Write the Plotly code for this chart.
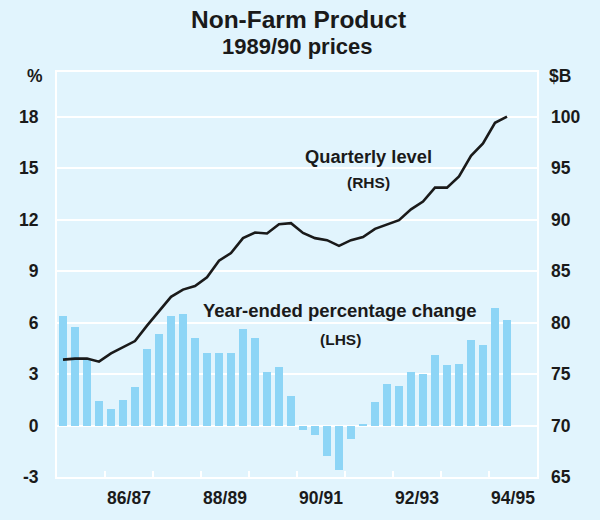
import plotly.graph_objects as go

quarters = ["Sep-85", "Dec-85", "Mar-86", "Jun-86", "Sep-86", "Dec-86", "Mar-87", "Jun-87",
            "Sep-87", "Dec-87", "Mar-88", "Jun-88", "Sep-88", "Dec-88", "Mar-89", "Jun-89",
            "Sep-89", "Dec-89", "Mar-90", "Jun-90", "Sep-90", "Dec-90", "Mar-91", "Jun-91",
            "Sep-91", "Dec-91", "Mar-92", "Jun-92", "Sep-92", "Dec-92", "Mar-93", "Jun-93",
            "Sep-93", "Dec-93", "Mar-94", "Jun-94", "Sep-94", "Dec-94"]

year_ended_pct = [6.4, 5.75, 3.8, 1.4, 0.95, 1.5, 2.25, 4.45, 5.35, 6.4, 6.5, 5.1, 4.2, 4.25,
                  4.25, 5.6, 5.1, 3.1, 3.4, 1.7, -0.25, -0.55, -1.8, -2.6, -0.8, 0.1, 1.35,
                  2.4, 2.3, 3.1, 3.0, 4.1, 3.5, 3.6, 5.0, 4.7, 6.85, 6.15]

quarterly_level = [76.4, 76.5, 76.5, 76.2, 77.0, 77.6, 78.2, 79.7, 81.1, 82.5, 83.2, 83.55,
                   84.4, 86.0, 86.75, 88.2, 88.75, 88.65, 89.55, 89.65, 88.7, 88.2, 88.0,
                   87.45, 88.0, 88.3, 89.1, 89.5, 89.95, 91.0, 91.75, 93.1, 93.1, 94.2,
                   96.2, 97.4, 99.4, 100.0]

year_labels = ["86/87", "88/89", "90/91", "92/93", "94/95"]
year_first_quarter = ["Sep-86", "Sep-88", "Sep-90", "Sep-92", "Sep-94"]
year_boundary_quarters = ["Sep-86", "Sep-87", "Sep-88", "Sep-89", "Sep-90", "Sep-91",
                          "Sep-92", "Sep-93", "Sep-94"]

left_ticks = [-3, 0, 3, 6, 9, 12, 15, 18]
left_tick_text = ["-3", "0", "3", "6", "9", "12", "15", "18"]
right_ticks = [65, 70, 75, 80, 85, 90, 95, 100]

BG = "#e1f4fd"
BAR = "#8dd5f6"
INK = "#1a1a1a"
FONT = "Liberation Sans, Arial, sans-serif"

idx = {q: i for i, q in enumerate(quarters)}
x = list(range(len(quarters)))
label_pos = [idx[q] + 1.5 for q in year_first_quarter]
boundary_pos = [idx[q] - 0.5 for q in year_boundary_quarters]
x_range = [-0.5, 39.5]

fig = go.Figure()
fig.add_trace(go.Bar(x=x, y=year_ended_pct, marker=dict(color=BAR, line=dict(width=0)),
                     width=0.64, xaxis="x", yaxis="y", hovertext=quarters, name="Year-ended"))
fig.add_trace(go.Scatter(x=x, y=quarterly_level, mode="lines", xaxis="x2", yaxis="y2",
                         line=dict(color=INK, width=2.6), hovertext=quarters, name="Level"))

# plot area pixel geometry
L, R, T, B = 57, 537, 72, 481
W, H = 600, 520

def px(xp):
    return (xp - L) / (R - L)

def py(yp):
    return (B - yp) / (B - T)

ann = []
def add(text, xp, yp, size):
    ann.append(dict(text="<b>%s</b>" % text, x=px(xp), y=py(yp),
                    xref="paper", yref="paper", showarrow=False, xanchor="center",
                    yanchor="middle", font=dict(family=FONT, size=size, color=INK)))

add("Non-Farm Product", 298, 19, 24.5)
add("1989/90 prices", 297, 46, 22)
add("%", 35, 76, 17.5)
add("$B", 560, 76, 17.5)
add("Quarterly level", 368, 157, 18.3)
add("(RHS)", 368, 184, 15.5)
add("Year-ended percentage change", 340, 313, 18.5)
add("(LHS)", 340, 342, 15.5)

tick_font = dict(family=FONT, size=17.5, color=INK, weight="bold")

fig.update_layout(
    width=W, height=H, autosize=False,
    margin=dict(l=L, r=W - R, t=T, b=H - B, pad=0),
    paper_bgcolor=BG, plot_bgcolor=BG,
    showlegend=False, bargap=0,
    font=dict(family=FONT, size=17, color=INK),
    annotations=ann,
    xaxis=dict(range=x_range, tickvals=boundary_pos, ticktext=[""] * len(boundary_pos),
               ticks="inside", ticklen=6, tickwidth=2, tickcolor="white",
               showgrid=False, zeroline=False,
               showline=True, linecolor="white", linewidth=2, mirror=True),
    xaxis2=dict(range=x_range, matches="x", overlaying="x", side="bottom",
                tickvals=label_pos, ticktext=year_labels, ticks="",
                showgrid=False, zeroline=False, showline=False,
                ticklabelstandoff=8, tickfont=tick_font),
    yaxis=dict(range=[-3, 20.6], tickvals=left_ticks, ticktext=left_tick_text, ticks="",
               showgrid=True, gridcolor="white", gridwidth=1.5, zeroline=True,
               zerolinecolor="white", zerolinewidth=1.5, showline=True, linecolor="white",
               linewidth=2, mirror=True, ticklabelstandoff=13, tickfont=tick_font),
    yaxis2=dict(range=[65, 65 + (20.6 + 3) * 5 / 3], tickvals=right_ticks, ticks="",
                overlaying="y", side="right", showgrid=False, zeroline=False,
                showline=False, ticklabelstandoff=13, tickfont=tick_font),
)

fig.write_html("out.html", config={"displayModeBar": False},
               post_script="document.body.style.margin='0px';document.body.style.padding='0px';")
